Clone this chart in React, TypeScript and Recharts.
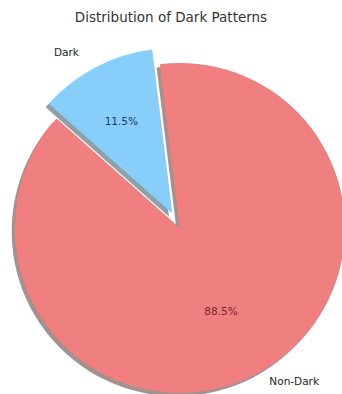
import React from 'react';
import { PieChart, Pie, Cell } from 'recharts';

const labels = ['Dark', 'Non-Dark'];
const shares = [11.5, 88.5];
const colors = ['#87CEFA', '#F08080'];
const shadowColors = ['#949ea5', '#a39292'];
const pctColors = ['#1e3a5a', '#7a2030'];
const explode = [0.1, 0];

const data = labels.map((name, i) => ({ name, value: shares[i] }));

const W = 342;
const H = 394;
const CX = 175;
const CY = 223;
const R = 165;
const START = 97;
const SHADOW = 3.3;
const RAD = Math.PI / 180;

const total = shares.reduce((s, v) => s + v, 0);
// mid angle of each wedge, matplotlib style (counterclockwise)
const midAngles = shares.map((v, i) => {
  const before = shares.slice(0, i).reduce((s, x) => s + x, 0);
  return START + ((before + v / 2) / total) * 360;
});
const centers = midAngles.map((a, i) => ({
  x: CX + explode[i] * R * Math.cos(a * RAD),
  y: CY - explode[i] * R * Math.sin(a * RAD),
}));

const font = '"DejaVu Sans", sans-serif';

const makeLabel = (idx: number) => (props: any) => {
  if (props.index !== idx) return null;
  const a = midAngles[idx] * RAD;
  const { x, y } = centers[idx];
  const px = x + 0.6 * R * Math.cos(a);
  const py = y - 0.6 * R * Math.sin(a);
  const lx = x + 1.1 * R * Math.cos(a);
  const ly = y - 1.1 * R * Math.sin(a);
  const anchor = Math.cos(a) < 0 ? 'end' : 'start';
  return (
    <g>
      <text x={px} y={py} textAnchor="middle" dominantBaseline="central"
        fontFamily={font} fontSize={10.5} fill={pctColors[idx]}>
        {`${shares[idx].toFixed(1)}%`}
      </text>
      <text x={lx + (anchor === 'start' ? 10 : -4)} y={ly + (anchor === 'start' ? -3 : 4)} textAnchor={anchor}
        dominantBaseline="central" fontFamily={font} fontSize={10.5} fill="#222">
        {labels[idx]}
      </text>
    </g>
  );
};

export default function App() {
  return (
    <div style={{ position: 'absolute', left: 0, top: 0, width: W, height: H, background: '#fff' }}>
      <div style={{
        position: 'absolute', left: 0, width: W, top: 8, textAlign: 'center',
        fontFamily: font, fontSize: 13.5, color: '#333', lineHeight: '18px',
      }}>
        Distribution of Dark Patterns
      </div>
      <PieChart width={W} height={H} style={{ position: 'absolute', left: 0, top: 0 }}>
        {/* shadows */}
        {labels.map((_, idx) => (
          <Pie
            key={`s${idx}`}
            data={data}
            dataKey="value"
            cx={centers[idx].x - SHADOW}
            cy={centers[idx].y + SHADOW}
            outerRadius={R}
            startAngle={START}
            endAngle={START + 360}
            stroke="none"
            isAnimationActive={false}
          >
            {data.map((d, i) => (
              <Cell key={d.name} fill={i === idx ? shadowColors[i] : 'transparent'} />
            ))}
          </Pie>
        ))}
        {/* wedges */}
        {labels.map((_, idx) => (
          <Pie
            key={`w${idx}`}
            data={data}
            dataKey="value"
            cx={centers[idx].x}
            cy={centers[idx].y}
            outerRadius={R}
            startAngle={START}
            endAngle={START + 360}
            stroke="none"
            labelLine={false}
            label={makeLabel(idx)}
            isAnimationActive={false}
          >
            {data.map((d, i) => (
              <Cell key={d.name} fill={i === idx ? colors[i] : 'transparent'} />
            ))}
          </Pie>
        ))}
      </PieChart>
    </div>
  );
}
